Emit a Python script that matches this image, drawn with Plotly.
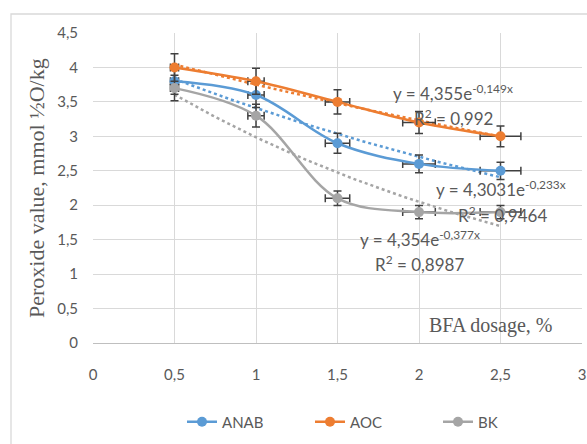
import numpy as np
import plotly.graph_objects as go

dosage = [0.5, 1, 1.5, 2, 2.5]
anab = [3.8, 3.6, 2.9, 2.6, 2.5]
aoc = [4.0, 3.8, 3.5, 3.2, 3.0]
bk = [3.7, 3.3, 2.1, 1.9, 1.9]
series_names = ["ANAB", "AOC", "BK"]
colors = ["#5B9BD5", "#ED7D31", "#A5A5A5"]
eq_texts = [
    ("y = 4,3031e<sup>-0,233x</sup>", "R<sup>2</sup> = 0,9464"),
    ("y = 4,355e<sup>-0,149x</sup>", "R<sup>2</sup> = 0,992"),
    ("y = 4,354e<sup>-0,377x</sup>", "R<sup>2</sup> = 0,8987"),
]
eq_pos = [((2.503, 2.25), (2.51, 1.86)), ((2.209, 3.63), (2.209, 3.27)), ((2.006, 1.51), (2.0, 1.16))]

fig = go.Figure()
data = [anab, aoc, bk]
x = np.array(dosage)

# exponential trendlines fitted to the data
for vals, col in zip(data, colors):
    b, lna = np.polyfit(x, np.log(vals), 1)
    xs = np.linspace(x.min(), x.max(), 60)
    fig.add_trace(go.Scatter(x=xs, y=np.exp(lna) * np.exp(b * xs), mode="lines",
                             line=dict(color=col, width=2.5, dash="dot"),
                             showlegend=False, hoverinfo="skip"))

for name, vals, col in zip(series_names, data, colors):
    fig.add_trace(go.Scatter(
        x=dosage, y=vals, name=name, mode="lines+markers",
        line=dict(color=col, width=2.5, shape="spline"),
        marker=dict(color=col, size=10),
        error_y=dict(type="percent", value=5, color="#404040", thickness=1.5, width=4),
        error_x=dict(type="percent", value=5, color="#404040", thickness=1.5, width=4),
    ))

font_c = "#595959"
for (eq, r2), (p1, p2) in zip(eq_texts, eq_pos):
    fig.add_annotation(x=p1[0], y=p1[1], text=eq, showarrow=False,
                       font=dict(family="Lato", size=17, color=font_c))
    fig.add_annotation(x=p2[0], y=p2[1], text=r2, showarrow=False,
                       font=dict(family="Lato", size=17, color=font_c))

fig.add_annotation(x=2.442, y=0.247, text="BFA dosage, %", showarrow=False,
                   font=dict(family="Liberation Serif", size=20, color=font_c))

L, T, PW, PH = 93, 33, 489, 310
W, H = 587, 444

fig.add_annotation(xref="paper", yref="paper", x=(36 - L) / PW, y=(T + PH - 188) / PH,
                   xanchor="center", yanchor="middle", textangle=-90, showarrow=False,
                   text="Peroxide value, mmol ½O/kg",
                   font=dict(family="Liberation Serif", size=22, color=font_c))

fig.add_shape(type="rect", xref="paper", yref="paper",
              x0=(11 - L) / PW, x1=1.2, y0=-0.5, y1=(PH + 19) / PH,
              line=dict(color="#d9d9d9", width=1.3), layer="below")

fig.update_layout(
    width=W, height=H,
    margin=dict(l=L, r=W - L - PW, t=T, b=H - T - PH, autoexpand=False),
    plot_bgcolor="white", paper_bgcolor="white",
    separators=", ",
    font=dict(family="Lato", size=15, color=font_c),
    legend=dict(orientation="h", x=0.182, xanchor="left", y=-0.255, yanchor="middle",
                font=dict(family="Lato", size=15, color=font_c),
                entrywidth=83, entrywidthmode="pixels", tracegroupgap=0),
    xaxis=dict(range=[0, 3], dtick=0.5, showgrid=True, gridcolor="#d9d9d9", gridwidth=1.3,
               zeroline=False, showline=True, linecolor="#bfbfbf", linewidth=1.3,
               automargin=False, ticklabeloverflow="allow",
               ticklabelstandoff=18, tickfont=dict(family="Lato", size=15, color=font_c)),
    yaxis=dict(range=[0, 4.5], dtick=0.5, showgrid=True, gridcolor="#d9d9d9", gridwidth=1.3,
               zeroline=False, showline=False, automargin=False,
               ticklabelstandoff=14, tickfont=dict(family="Lato", size=15, color=font_c)),
)

fig.write_html("out.html", config={"displayModeBar": False},
               post_script="document.body.style.margin='0';document.body.style.overflow='hidden';")
